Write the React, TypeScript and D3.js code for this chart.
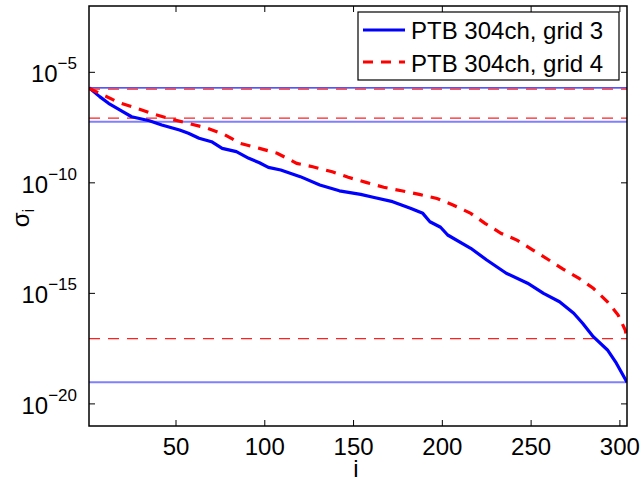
import React from "react";
import * as d3 from "d3";

const seriesNames = ["PTB 304ch, grid 3", "PTB 304ch, grid 4"];

const blueI = [1, 7, 12, 20, 25, 35, 42, 52, 57, 63, 70, 76, 84, 91, 97, 102, 109, 120, 131, 142, 154, 161, 172, 182, 189, 193, 199, 203, 216, 225, 236, 248, 257, 266, 274, 279, 285, 293, 298, 304];
const blueLog10 = [-5.70, -6.10, -6.40, -6.78, -7.01, -7.19, -7.38, -7.61, -7.76, -7.98, -8.14, -8.44, -8.59, -8.89, -9.09, -9.30, -9.42, -9.72, -10.10, -10.36, -10.52, -10.65, -10.85, -11.15, -11.38, -11.76, -12.01, -12.36, -12.96, -13.49, -14.09, -14.54, -15.00, -15.38, -15.90, -16.35, -16.96, -17.56, -18.16, -19.02];

const redI = [1, 3, 9, 18, 28, 38, 48, 57, 67, 77, 86, 97, 107, 118, 127, 138, 147, 157, 167, 177, 187, 197, 206, 216, 224, 233, 242, 251, 260, 268, 277, 285, 293, 299, 303, 304];
const redLog10 = [-5.73, -5.80, -6.03, -6.37, -6.63, -6.90, -7.13, -7.31, -7.51, -7.80, -8.21, -8.44, -8.66, -9.12, -9.27, -9.50, -9.75, -9.98, -10.20, -10.36, -10.52, -10.71, -11.00, -11.38, -11.83, -12.28, -12.59, -13.04, -13.49, -13.90, -14.32, -14.77, -15.38, -15.98, -16.66, -17.03];

const blueRefLog10 = [-5.70, -7.24, -19.02];
const redRefLog10 = [-5.76, -7.07, -17.05];

const xTicks = [50, 100, 150, 200, 250, 300];
const yTickExp = [-5, -10, -15, -20];

const W = 641, H = 481;
const L = 89, R = 627, T = 6, B = 426;
const FONT = "'Liberation Sans', Arial, Helvetica, sans-serif";

export default function App() {
  const x = d3.scaleLinear().domain([1, 304]).range([L, R]);
  const y = d3.scaleLog().domain([1e-21, 1e-2]).range([B, T]);
  const line = d3
    .line<[number, number]>()
    .x((d) => x(d[0]))
    .y((d) => y(Math.pow(10, d[1])));
  const blueData = blueI.map((v, k) => [v, blueLog10[k]] as [number, number]);
  const redData = redI.map((v, k) => [v, redLog10[k]] as [number, number]);

  return (
    <svg width={W} height={H} style={{ position: "absolute", left: 0, top: 0, background: "#fff" }} fontFamily={FONT}>
      <rect x={0} y={0} width={W} height={H} fill="#fff" />
      <defs>
        <clipPath id="pa">
          <rect x={L} y={T} width={R - L} height={B - T} />
        </clipPath>
      </defs>
      <g clipPath="url(#pa)">
        {blueRefLog10.map((v, k) => (
          <line key={"b" + k} x1={L} x2={R} y1={y(Math.pow(10, v))} y2={y(Math.pow(10, v))}
            stroke={k === 0 ? "#1a1aff" : "#7f7fff"} strokeWidth={k === 0 ? 1.2 : 2} />
        ))}
        {redRefLog10.map((v, k) => (
          <line key={"r" + k} x1={L} x2={R} y1={y(Math.pow(10, v))} y2={y(Math.pow(10, v))}
            stroke="#ff2020" strokeWidth={1.3} strokeDasharray="11,8" />
        ))}
        <path d={line(blueData) || ""} fill="none" stroke="#0000ff" strokeWidth={3.2} strokeLinejoin="round" />
        <path d={line(redData) || ""} fill="none" stroke="#ff0000" strokeWidth={3.2} strokeDasharray="10,8" />
      </g>
      {/* axes box */}
      <rect x={L} y={T} width={R - L} height={B - T} fill="none" stroke="#000" strokeWidth={1.5} />
      {xTicks.map((t) => (
        <g key={"xt" + t}>
          <line x1={x(t)} x2={x(t)} y1={B} y2={B - 6} stroke="#000" strokeWidth={1} />
          <line x1={x(t)} x2={x(t)} y1={T} y2={T + 6} stroke="#000" strokeWidth={1} />
          <text x={x(t)} y={455} textAnchor="middle" fontSize={24} fill="#000">{t}</text>
        </g>
      ))}
      {yTickExp.map((e) => {
        const yy = y(Math.pow(10, e));
        return (
          <g key={"yt" + e}>
            <line x1={L} x2={L + 6} y1={yy} y2={yy} stroke="#000" strokeWidth={1} />
            <line x1={R} x2={R - 6} y1={yy} y2={yy} stroke="#000" strokeWidth={1} />
            <text x={77} y={yy + 10} textAnchor="end" fontSize={24} fill="#000">
              10<tspan fontSize={17} dy={-13}>{"\u2212" + Math.abs(e)}</tspan>
            </text>
          </g>
        );
      })}
      {/* axis labels */}
      <text transform="translate(29,218) rotate(-90)" textAnchor="middle" fontSize={24} fill="#000">
        σ<tspan fontSize={17} dy={5}>i</tspan>
      </text>
      <text x={356} y={477} textAnchor="middle" fontSize={24} fill="#000">i</text>
      {/* legend */}
      <rect x={358} y={12} width={261} height={68} fill="#fff" stroke="#000" strokeWidth={1.2} />
      <line x1={363} x2={405} y1={30} y2={30} stroke="#0000ff" strokeWidth={3} />
      <line x1={363} x2={405} y1={62} y2={62} stroke="#ff0000" strokeWidth={3} strokeDasharray="10,8" />
      <text x={411} y={39} fontSize={24} fill="#000">{seriesNames[0]}</text>
      <text x={411} y={72} fontSize={24} fill="#000">{seriesNames[1]}</text>
    </svg>
  );
}
